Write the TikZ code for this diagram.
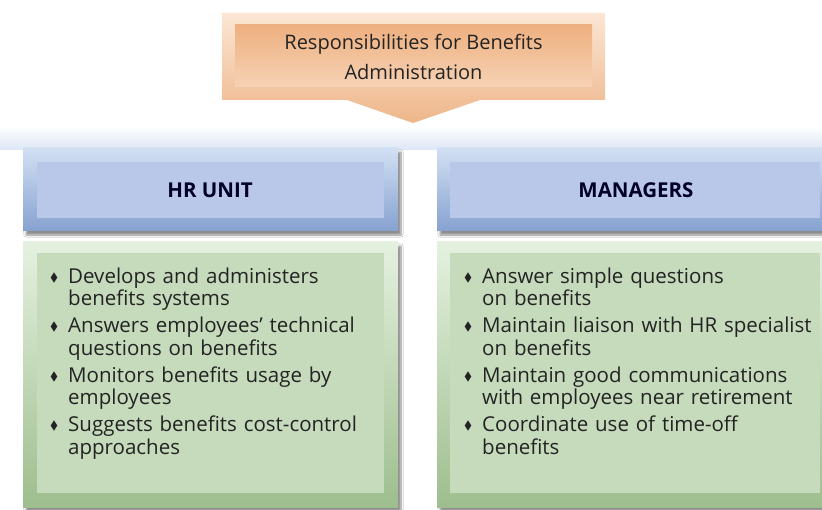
\documentclass[tikz,border=0pt]{standalone}
\usepackage{amssymb}
\usepackage{fontspec}
\setmainfont{Open Sans}
\usetikzlibrary{shadows.blur}
\definecolor{txt}{RGB}{35,35,35}
\definecolor{orOutTop}{RGB}{251,230,212}
\definecolor{orOutBot}{RGB}{238,182,138}
\definecolor{orInTop}{RGB}{238,176,128}
\definecolor{orInBot}{RGB}{246,210,180}
\definecolor{bandTop}{RGB}{255,255,255}
\definecolor{bandBot}{RGB}{220,230,245}
\definecolor{hdOutTop}{RGB}{210,224,243}
\definecolor{hdOutBot}{RGB}{134,162,208}
\definecolor{hdIn}{RGB}{185,199,232}
\definecolor{grOutTop}{RGB}{229,241,224}
\definecolor{grOutBot}{RGB}{158,190,142}
\definecolor{grIn}{RGB}{197,219,188}
\newcommand{\bul}{\makebox[18bp][l]{\raisebox{2bp}{\fontsize{12bp}{12bp}\selectfont$\blacklozenge$}}}
\newcommand{\itm}[2]{\noindent\bul #1\par\noindent\hspace*{18bp}#2\par}
\tikzset{
  hdouter/.style={top color=hdOutTop, bottom color=hdOutBot, draw=none,
    blur shadow={shadow xshift=3bp, shadow yshift=-4bp, shadow blur steps=6, shadow opacity=45}},
  hdinner/.style={fill=hdIn, draw=none},
  grouter/.style={top color=grOutTop, bottom color=grOutBot, draw=none,
    blur shadow={shadow xshift=3bp, shadow yshift=-4bp, shadow blur steps=6, shadow opacity=45}},
  grinner/.style={fill=grIn, draw=none},
  hdtext/.style={font=\fontsize{20.5bp}{24bp}\selectfont\bfseries, text=black!85!blue},
  listtext/.style={anchor=north west, inner sep=0pt, text width=360bp,
    font=\fontsize{20.5bp}{22.5bp}\selectfont, text=txt},
}
\begin{document}
\begin{tikzpicture}[x=1bp, y=-1bp]
\useasboundingbox (0,0) rectangle (822,510);
\fill[white] (0,0) rectangle (822,510);
% band
\shade[top color=bandTop, bottom color=bandBot] (0,126) rectangle (822,150);
% title arrow
\shade[top color=orOutTop, bottom color=orOutBot]
  (222,13) -- (605,13) -- (605,100) -- (480,100) -- (413,123) -- (347,100) -- (222,100) -- cycle;
\shade[top color=orInTop, bottom color=orInBot] (235,25) rectangle (592,87);
\node[align=center, font=\fontsize{20bp}{30bp}\selectfont, text=txt] (title) at (413.5,57)
  {Responsibilities for Benefits\\Administration};
% left column
\path[hdouter] (23,148) rectangle (398,231);
\path[hdinner] (37,162) rectangle (384,218);
\node[hdtext] (hr) at (210,190) {HR UNIT};
\path[grouter] (23,242) rectangle (398,507);
\path[grinner] (37,253) rectangle (384,493);
\node[listtext] (hrlist) at (50,267.5) {%
\itm{Develops and administers}{benefits systems}\vspace{4.5bp}%
\itm{Answers employees’ technical}{questions on benefits}\vspace{4.5bp}%
\itm{Monitors benefits usage by}{employees}\vspace{4.5bp}%
\itm{Suggests benefits cost-control}{approaches}};
% right column
\path[hdouter] (437,148) rectangle (834,231);
\path[hdinner] (450,162) rectangle (820,218);
\node[hdtext] (mg) at (636,190) {MANAGERS};
\path[grouter] (437,242) rectangle (834,507);
\path[grinner] (450,253) rectangle (820,493);
\node[listtext] (mglist) at (464,267.5) {%
\itm{Answer simple questions}{on benefits}\vspace{4.5bp}%
\itm{Maintain liaison with HR specialist}{on benefits}\vspace{4.5bp}%
\itm{Maintain good communications}{with employees near retirement}\vspace{4.5bp}%
\itm{Coordinate use of time-off}{benefits}};
\end{tikzpicture}
\end{document}
